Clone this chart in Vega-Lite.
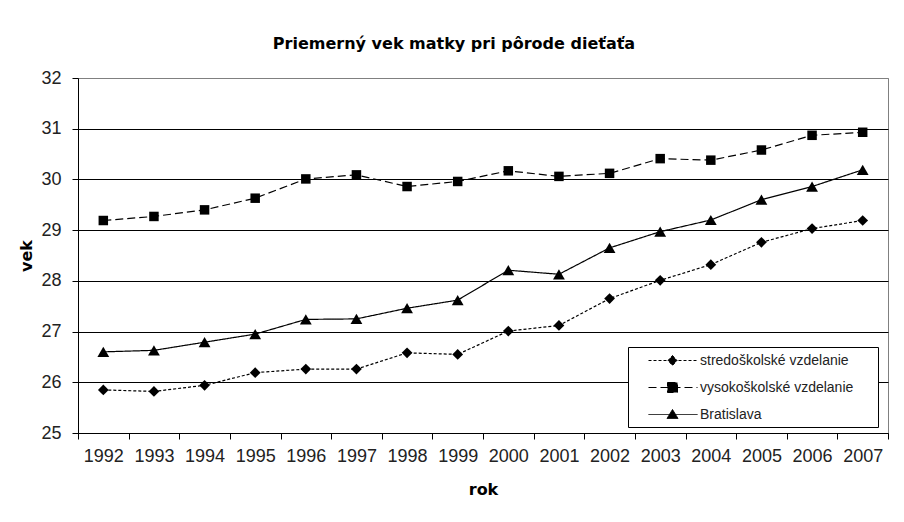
{
  "$schema": "https://vega.github.io/schema/vega-lite/v6.json",
  "autosize": "none",
  "padding": {"left": 78, "top": 78, "right": 16, "bottom": 89},
  "width": 810,
  "height": 355,
  "background": "white",
  "title": {
    "text": "Priemerný vek matky pri pôrode dieťaťa",
    "font": "DejaVu Sans",
    "fontSize": 16,
    "fontWeight": "bold",
    "color": "#000",
    "anchor": "middle",
    "dx": -29,
    "offset": 17
  },
  "config": {
    "view": {"stroke": "#808080", "strokeWidth": 1},
    "font": "Liberation Sans",
    "axis": {
      "labelFont": "Liberation Sans",
      "labelFontSize": 18,
      "labelColor": "#222",
      "titleFont": "DejaVu Sans",
      "titleFontSize": 16,
      "titleFontWeight": "bold",
      "titleColor": "#000",
      "domainColor": "#000",
      "tickColor": "#000",
      "domainWidth": 1,
      "tickWidth": 1
    }
  },
  "data": {
    "values": [
      {"rok": "1992", "skupina": "stredoškolské vzdelanie", "vek": 25.85},
      {"rok": "1993", "skupina": "stredoškolské vzdelanie", "vek": 25.82},
      {"rok": "1994", "skupina": "stredoškolské vzdelanie", "vek": 25.94},
      {"rok": "1995", "skupina": "stredoškolské vzdelanie", "vek": 26.19},
      {"rok": "1996", "skupina": "stredoškolské vzdelanie", "vek": 26.26},
      {"rok": "1997", "skupina": "stredoškolské vzdelanie", "vek": 26.26},
      {"rok": "1998", "skupina": "stredoškolské vzdelanie", "vek": 26.58},
      {"rok": "1999", "skupina": "stredoškolské vzdelanie", "vek": 26.55},
      {"rok": "2000", "skupina": "stredoškolské vzdelanie", "vek": 27.01},
      {"rok": "2001", "skupina": "stredoškolské vzdelanie", "vek": 27.12},
      {"rok": "2002", "skupina": "stredoškolské vzdelanie", "vek": 27.65},
      {"rok": "2003", "skupina": "stredoškolské vzdelanie", "vek": 28.01},
      {"rok": "2004", "skupina": "stredoškolské vzdelanie", "vek": 28.32},
      {"rok": "2005", "skupina": "stredoškolské vzdelanie", "vek": 28.76},
      {"rok": "2006", "skupina": "stredoškolské vzdelanie", "vek": 29.03},
      {"rok": "2007", "skupina": "stredoškolské vzdelanie", "vek": 29.19},
      {"rok": "1992", "skupina": "vysokoškolské vzdelanie", "vek": 29.19},
      {"rok": "1993", "skupina": "vysokoškolské vzdelanie", "vek": 29.27},
      {"rok": "1994", "skupina": "vysokoškolské vzdelanie", "vek": 29.40},
      {"rok": "1995", "skupina": "vysokoškolské vzdelanie", "vek": 29.63},
      {"rok": "1996", "skupina": "vysokoškolské vzdelanie", "vek": 30.01},
      {"rok": "1997", "skupina": "vysokoškolské vzdelanie", "vek": 30.09},
      {"rok": "1998", "skupina": "vysokoškolské vzdelanie", "vek": 29.86},
      {"rok": "1999", "skupina": "vysokoškolské vzdelanie", "vek": 29.96},
      {"rok": "2000", "skupina": "vysokoškolské vzdelanie", "vek": 30.17},
      {"rok": "2001", "skupina": "vysokoškolské vzdelanie", "vek": 30.06},
      {"rok": "2002", "skupina": "vysokoškolské vzdelanie", "vek": 30.12},
      {"rok": "2003", "skupina": "vysokoškolské vzdelanie", "vek": 30.41},
      {"rok": "2004", "skupina": "vysokoškolské vzdelanie", "vek": 30.38},
      {"rok": "2005", "skupina": "vysokoškolské vzdelanie", "vek": 30.58},
      {"rok": "2006", "skupina": "vysokoškolské vzdelanie", "vek": 30.87},
      {"rok": "2007", "skupina": "vysokoškolské vzdelanie", "vek": 30.93},
      {"rok": "1992", "skupina": "Bratislava", "vek": 26.60},
      {"rok": "1993", "skupina": "Bratislava", "vek": 26.63},
      {"rok": "1994", "skupina": "Bratislava", "vek": 26.79},
      {"rok": "1995", "skupina": "Bratislava", "vek": 26.95},
      {"rok": "1996", "skupina": "Bratislava", "vek": 27.24},
      {"rok": "1997", "skupina": "Bratislava", "vek": 27.25},
      {"rok": "1998", "skupina": "Bratislava", "vek": 27.46},
      {"rok": "1999", "skupina": "Bratislava", "vek": 27.62},
      {"rok": "2000", "skupina": "Bratislava", "vek": 28.21},
      {"rok": "2001", "skupina": "Bratislava", "vek": 28.13},
      {"rok": "2002", "skupina": "Bratislava", "vek": 28.65},
      {"rok": "2003", "skupina": "Bratislava", "vek": 28.97},
      {"rok": "2004", "skupina": "Bratislava", "vek": 29.20},
      {"rok": "2005", "skupina": "Bratislava", "vek": 29.60},
      {"rok": "2006", "skupina": "Bratislava", "vek": 29.86},
      {"rok": "2007", "skupina": "Bratislava", "vek": 30.19}
    ]
  },
  "encoding": {
    "x": {
      "field": "rok",
      "type": "ordinal",
      "title": "rok",
      "scale": {"type": "band", "paddingInner": 0, "paddingOuter": 0},
      "axis": {
        "labelAngle": 0,
        "tickBand": "extent",
        "tickSize": 6,
        "labelPadding": 8,
        "titlePadding": 16,
        "grid": false
      }
    },
    "y": {
      "field": "vek",
      "type": "quantitative",
      "title": "vek",
      "scale": {"domain": [25, 32], "nice": false, "zero": false},
      "axis": {
        "values": [25, 26, 27, 28, 29, 30, 31, 32],
        "tickSize": 6,
        "labelPadding": 11,
        "titlePadding": 6,
        "grid": true,
        "gridColor": {"condition": {"test": "datum.value >= 32", "value": "#808080"}, "value": "#000000"},
        "gridWidth": 1
      }
    }
  },
  "layer": [
    {
      "mark": {"type": "line", "color": "#000", "strokeWidth": 1.2},
      "encoding": {
        "strokeDash": {
          "field": "skupina",
          "type": "nominal",
          "scale": {
            "domain": ["stredoškolské vzdelanie", "vysokoškolské vzdelanie", "Bratislava"],
            "range": [[3, 2], [8, 4], [1, 0]]
          },
          "legend": {
            "title": null,
            "orient": "none",
            "legendX": 550,
            "legendY": 269,
            "direction": "vertical",
            "padding": 5,
            "fillColor": "#ffffff",
            "strokeColor": "#000000",
            "cornerRadius": 0,
            "symbolSize": 256,
            "rowPadding": 11,
            "labelOffset": 50,
            "labelFont": "Liberation Sans",
            "labelFontSize": 14,
            "labelColor": "#222",
            "labelLimit": 300,
            "encoding": {
              "symbols": {
                "shape": {
                  "condition": [
                    {"test": "datum.value === 'Bratislava'", "value": "M0.875,0L7,0M3.875,-0.625L4.5625,0.5L3.1875,0.5ZM28.6,0"},
                    {"test": "datum.value === 'vysokoškolské vzdelanie'", "value": "M0.875,0L7,0M3.25,-0.625L4.5,-0.625L4.5,0.625L3.25,0.625ZM28.6,0"}
                  ],
                  "value": "M0.875,0L7,0M3.875,-0.625L4.4375,0L3.875,0.625L3.3125,0ZM28.6,0"
                },
                "fill": {"value": "#000000"},
                "stroke": {"value": "#000000"},
                "strokeWidth": {"value": 1},
                "opacity": {"value": 1}
              }
            }
          }
        }
      }
    },
    {
      "mark": {"type": "point", "filled": true, "color": "#000", "opacity": 1},
      "encoding": {
        "shape": {
          "field": "skupina",
          "type": "nominal",
          "scale": {
            "domain": ["Bratislava", "stredoškolské vzdelanie", "vysokoškolské vzdelanie"],
            "range": ["triangle-up", "diamond", "square"]
          },
          "legend": null
        },
        "size": {
          "field": "skupina",
          "type": "nominal",
          "scale": {
            "domain": ["Bratislava", "stredoškolské vzdelanie", "vysokoškolské vzdelanie"],
            "range": [140, 90, 110]
          },
          "legend": null
        }
      }
    }
  ]
}
